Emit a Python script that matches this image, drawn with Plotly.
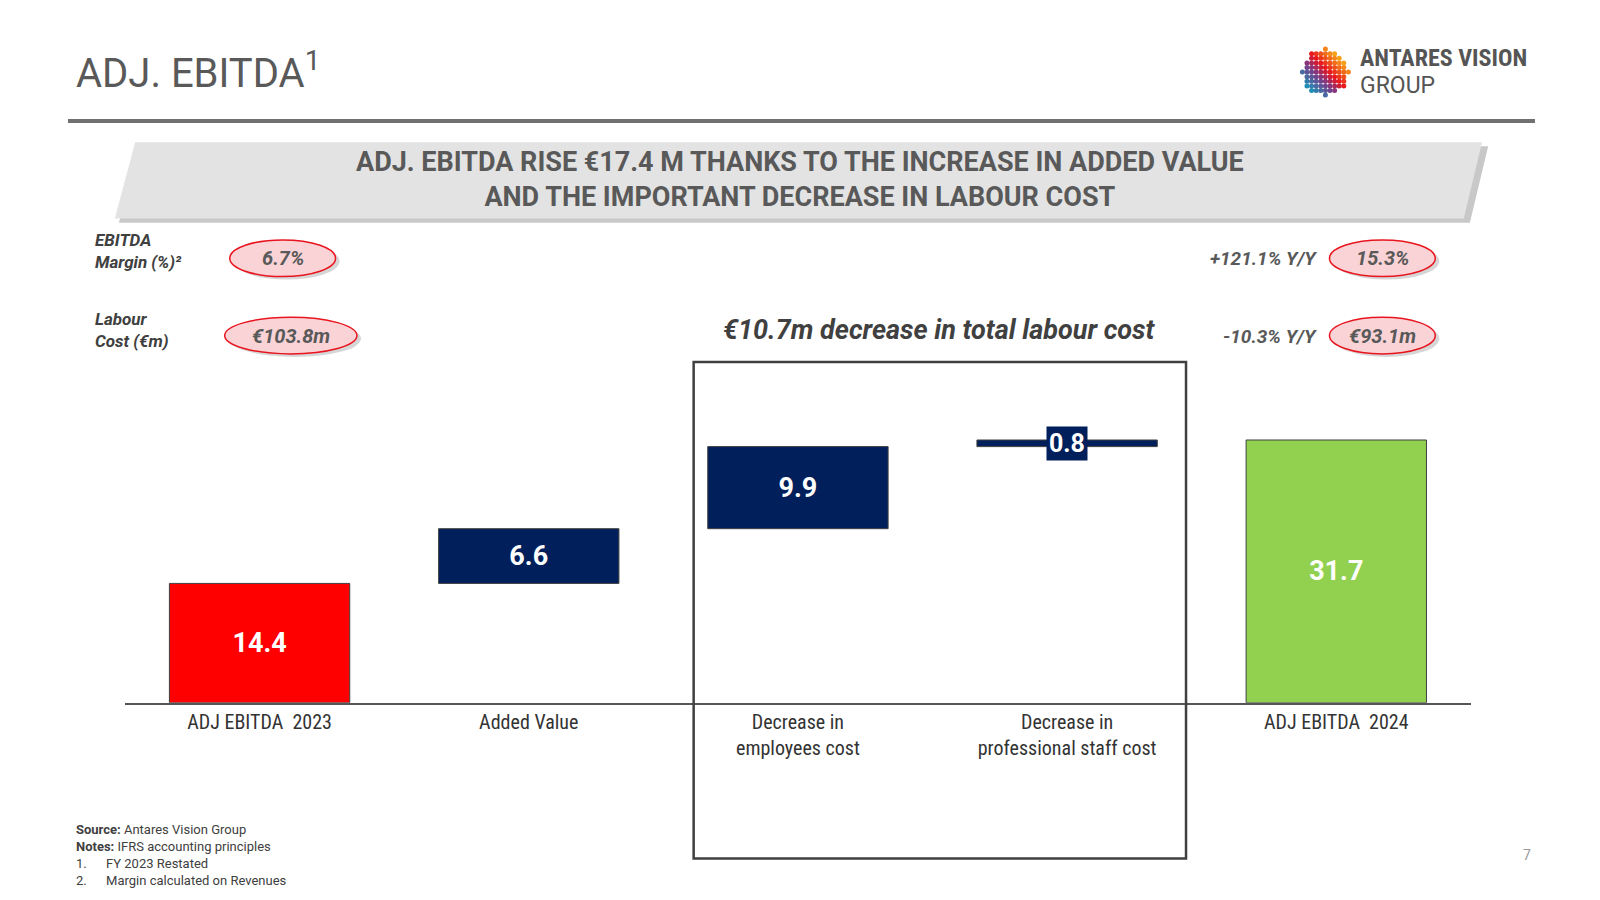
import numpy as np
import plotly.graph_objects as go

# waterfall data (EUR m)
categories = ["ADJ EBITDA  2023", "Added Value", "Decrease in<br>employees cost",
              "Decrease in<br>professional staff cost", "ADJ EBITDA  2024"]
steps = [14.4, 6.6, 9.9, 0.8]
total_2024 = 31.7
bar_colors = ["#ff0000", "#001f5b", "#001f5b", "#001f5b", "#92d050"]

W, H = 1600, 900
# positions measured on the slide image; correct for page offset/scale
K, OFF = 0.983, 7
def px(x): return (x - OFF) / K / W
def py(y): return 1 - (y - OFF) / K / H

bases, heights, labels = [], [], []
run = 0.0
for s in steps:
    bases.append(run); heights.append(s)
    run += s
    labels.append(f"{s}")
heights[-1] = total_2024 - bases[-1]
bases.append(0); heights.append(total_2024); labels.append(f"{total_2024}")

fig = go.Figure()
fig.add_trace(go.Bar(
    x=categories, y=heights, base=bases, width=0.67,
    marker=dict(color=bar_colors, line=dict(color="#404040", width=1)),
    text=[f"<b>{l}</b>" if i != 3 else "" for i, l in enumerate(labels)],
    textposition="inside", insidetextanchor="middle", textangle=0,
    textfont=dict(family="Roboto", size=27, color="white"),
    hoverinfo="skip",
))
fig.add_annotation(x=categories[3], y=bases[3] + heights[3] / 2, text="<b>0.8</b>",
                   showarrow=False, bgcolor="#001f5b", borderpad=2,
                   font=dict(family="Roboto", size=25, color="white"))

ymax = (690 - 350) / 8.15
fig.update_layout(
    width=W, height=H, margin=dict(l=0, r=0, t=0, b=0),
    paper_bgcolor="white", plot_bgcolor="white", showlegend=False,
    xaxis=dict(domain=[px(122), px(1445)], tickmode="array", tickvals=categories,
               ticktext=categories, tickfont=dict(family="Roboto Condensed, Roboto", size=20, color="#333"),
               showline=True, linecolor="#555", linewidth=1.5, ticks="", showgrid=False),
    yaxis=dict(domain=[py(690), py(350)], range=[0, ymax], visible=False),
    font=dict(family="Roboto"),
)

shapes = []
shapes.append(dict(type="line", xref="paper", yref="paper", x0=px(66), x1=px(1508),
                   y0=py(118), y1=py(118), line=dict(color="#707070", width=4)))
shapes.append(dict(type="path", xref="paper", yref="paper",
                   path=f"M {px(136)},{py(143)} L {px(1462)},{py(143)} L {px(1444)},{py(218)} L {px(116)},{py(218)} Z",
                   fillcolor="#c8c8c8", line=dict(width=0)))
shapes.append(dict(type="path", xref="paper", yref="paper",
                   path=f"M {px(132)},{py(139)} L {px(1456)},{py(139)} L {px(1438)},{py(214)} L {px(112)},{py(214)} Z",
                   fillcolor="#e3e3e3", line=dict(width=0)))
shapes.append(dict(type="rect", xref="paper", yref="paper", x0=px(681), x1=px(1165),
                   y0=py(843), y1=py(355), line=dict(color="#404040", width=2.5)))
for (cx, cy, rw) in [(277, 253, 52), (285, 329, 65), (1358, 253, 52), (1358, 329, 52)]:
    shapes.append(dict(type="circle", xref="paper", yref="paper",
                       x0=px(cx - rw + 4), x1=px(cx + rw + 4), y0=py(cy + 18 + 3), y1=py(cy - 18 + 3),
                       fillcolor="#bbbbbb", line=dict(width=0), opacity=0.6))
    shapes.append(dict(type="circle", xref="paper", yref="paper",
                       x0=px(cx - rw), x1=px(cx + rw), y0=py(cy + 18), y1=py(cy - 18),
                       fillcolor="#f9d3d6", line=dict(color="#e8141e", width=1.5)))
fig.update_layout(shapes=shapes)

def txt(x, y, s, size, color="#404040", xanchor="left", align="left", family="Roboto"):
    fig.add_annotation(xref="paper", yref="paper", x=px(x), y=py(y), text=s, showarrow=False,
                       xanchor=xanchor, yanchor="middle", align=align,
                       font=dict(family=family, size=size, color=color))

txt(72, 68, "ADJ. EBITDA<sup>1</sup>", 40, "#595959")
txt(786, 176, "<b>ADJ. EBITDA RISE €17.4 M THANKS TO THE INCREASE IN ADDED VALUE<br>AND THE IMPORTANT DECREASE IN LABOUR COST</b>",
    27, "#595959", "center", "center")
txt(91, 246, "<b><i>EBITDA<br>Margin (%)²</i></b>", 17)
txt(91, 324, "<b><i>Labour<br>Cost (€m)</i></b>", 17)
txt(277, 253, "<b><i>6.7%</i></b>", 20, "#595959", "center")
txt(285, 329, "<b><i>€103.8m</i></b>", 20, "#595959", "center")
txt(1358, 253, "<b><i>15.3%</i></b>", 20, "#595959", "center")
txt(1358, 329, "<b><i>€93.1m</i></b>", 20, "#595959", "center")
txt(1296, 253, "<b><i>+121.1% Y/Y</i></b>", 19, "#595959", "right")
txt(1296, 330, "<b><i>-10.3% Y/Y</i></b>", 19, "#595959", "right")
txt(923, 324, "<b><i>€10.7m decrease in total labour cost</i></b>", 27, "#404040", "center")
txt(72, 840, "<b>Source:</b> Antares Vision Group<br><b>Notes:</b> IFRS accounting principles<br>1.      FY 2023 Restated<br>2.      Margin calculated on Revenues",
    13, "#404040")
txt(1506, 840, "7", 14, "#999", "right")
txt(1334, 56, "<b>ANTARES VISION</b>", 24, "#555", family="Roboto Condensed, Roboto")
txt(1334, 83, "GROUP", 23, "#555")

# logo: dotted sphere
lx, ly, lc = [], [], []
for gy in np.linspace(-1, 1, 11):
    for gx in np.linspace(-1, 1, 11):
        if gx * gx + gy * gy <= 1.0:
            lx.append(gx); ly.append(gy); lc.append(gx + gy)
fig.add_trace(go.Scatter(x=lx, y=ly, mode="markers", xaxis="x2", yaxis="y2", hoverinfo="skip",
                         marker=dict(size=5, color=lc, colorscale=[[0, "#1f8fb5"], [0.35, "#7a3a8a"],
                                                                    [0.6, "#e8141e"], [1, "#f7a11a"]])))
fig.update_layout(
    xaxis2=dict(domain=[px(1276), px(1328)], range=[-1.15, 1.15], visible=False),
    yaxis2=dict(domain=[py(96), py(44)], range=[-1.15, 1.15], visible=False, anchor="x2"),
)

fig.write_html("out.html")
